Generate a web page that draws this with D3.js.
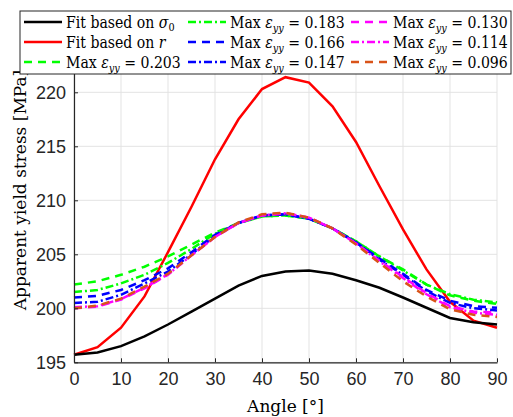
<!DOCTYPE html>
<html><head><meta charset="utf-8">
<script src="https://cdn.jsdelivr.net/npm/d3@7"></script>
<style>body{margin:0;background:#fff}svg{display:block}
.serif{font-family:"DejaVu Serif","Liberation Serif","Noto Serif","Times New Roman",Times,serif}
.sans{font-family:"Liberation Sans",Arial,"DejaVu Sans",sans-serif}
</style>
</head><body>
<svg id="c" width="513" height="417"></svg>
<script>
const angles = [0,5,10,15,20,25,30,35,40,45,50,55,60,65,70,75,80,85,90];
const fitSigma0 = [195.7,195.9,196.5,197.4,198.5,199.7,200.9,202.1,203.0,203.4,203.5,203.2,202.6,201.9,201.0,200.05,199.1,198.7,198.5];
const fitR = [195.7,196.4,198.2,201.1,205.2,209.4,213.8,217.5,220.3,221.4,220.9,218.7,215.4,211.3,207.3,203.6,200.6,198.85,198.2];
const e203 = [202.2,202.5,203.1,203.85,204.8,205.9,207.0,207.9,208.5,208.6,208.3,207.4,206.2,204.8,203.6,202.2,201.2,200.7,200.4];
const e183 = [201.5,201.7,202.3,203.1,204.2,205.5,206.9,207.9,208.5,208.6,208.3,207.4,206.2,204.8,203.5,202.2,201.3,200.8,200.55];
const e166 = [201.0,201.15,201.7,202.6,203.7,205.2,206.8,207.9,208.6,208.7,208.3,207.4,206.1,204.6,203.2,201.7,200.7,200.2,200.05];
const e147 = [200.5,200.6,201.25,202.3,203.4,205.0,206.7,207.9,208.6,208.7,208.3,207.4,206.1,204.5,203.1,201.6,200.5,200.0,199.8];
const e130 = [200.0,200.15,200.8,201.85,203.1,204.9,206.6,207.9,208.6,208.8,208.4,207.4,206.0,204.4,202.9,201.4,200.2,199.7,199.6];
const e114 = [200.1,200.2,200.85,201.9,203.15,204.9,206.6,207.9,208.6,208.8,208.4,207.4,206.0,204.35,202.8,201.3,200.1,199.6,199.4];
const e096 = [200.0,200.25,200.9,202.0,203.2,204.9,206.6,207.95,208.7,208.85,208.4,207.4,205.9,204.2,202.5,201.1,199.9,199.4,199.2];
const xTicks = [0,10,20,30,40,50,60,70,80,90];
const yTicks = [195,200,205,210,215,220];
const strainLabels = ["0.203","0.183","0.166","0.147","0.130","0.114","0.096"];

const series = [
  {name:"sigma", vals:fitSigma0, color:"#000000", dash:null},
  {name:"r", vals:fitR, color:"#FF0000", dash:null},
  {name:strainLabels[0], vals:e203, color:"#00FF00", dash:"8,6"},
  {name:strainLabels[1], vals:e183, color:"#00FF00", dash:"8,3,2,3"},
  {name:strainLabels[2], vals:e166, color:"#0000FF", dash:"8,6"},
  {name:strainLabels[3], vals:e147, color:"#0000FF", dash:"8,3,2,3"},
  {name:strainLabels[4], vals:e130, color:"#FF00FF", dash:"8,6"},
  {name:strainLabels[5], vals:e114, color:"#FF00FF", dash:"8,3,2,3"},
  {name:strainLabels[6], vals:e096, color:"#D95319", dash:"8,6"}
];

const svg = d3.select("#c");
const x = d3.scaleLinear().domain([0,90]).range([74,497]);
const y = d3.scaleLinear().domain([195,225]).range([362.3,38.3]);

const g = svg.append("g");
g.selectAll(".gx").data(xTicks).enter().append("line")
  .attr("x1",d=>x(d)).attr("x2",d=>x(d)).attr("y1",y(195)).attr("y2",y(225))
  .attr("stroke","#e3e3e3").attr("stroke-width",1);
g.selectAll(".gy").data(yTicks).enter().append("line")
  .attr("x1",x(0)).attr("x2",x(90)).attr("y1",d=>y(d)).attr("y2",d=>y(d))
  .attr("stroke","#e3e3e3").attr("stroke-width",1);

const line = d3.line().x((d,i)=>x(angles[i])).y(d=>y(d));
const order = [1,0,2,3,4,5,6,7,8];
order.forEach(k=>{
  const s = series[k];
  svg.append("path").attr("d",line(s.vals)).attr("fill","none")
    .attr("stroke",s.color).attr("stroke-width",2.5)
    .attr("stroke-dasharray",s.dash);
});

const xAxis = d3.axisBottom(x).tickValues(xTicks).tickSizeInner(-4).tickSizeOuter(0).tickPadding(10);
const yAxis = d3.axisLeft(y).tickValues(yTicks).tickSizeInner(-4).tickSizeOuter(0).tickPadding(8);
const ax = svg.append("g").attr("transform",`translate(0,${y(195)})`).call(xAxis);
const ay = svg.append("g").attr("transform",`translate(${x(0)},0)`).call(yAxis);
[ax,ay].forEach(a=>{
  a.attr("font-family",null).attr("font-size",null);
  a.select(".domain").attr("stroke","#262626").attr("stroke-width",1.2);
  a.selectAll(".tick line").attr("stroke","#262626");
  a.selectAll(".tick text").attr("fill","#262626").attr("class","sans").attr("font-size","18px");
});

svg.append("text").attr("class","serif").attr("x",285.5).attr("y",412).attr("text-anchor","middle")
  .attr("font-size","17px").attr("fill","#000")
  .text("Angle [°]");
svg.append("text").attr("class","serif").attr("transform","translate(26,190) rotate(-90)").attr("text-anchor","middle")
  .attr("font-size","17px").attr("fill","#000")
  .text("Apparent yield stress [MPa]");

const lg = svg.append("g");
lg.append("rect").attr("x",20).attr("y",11).attr("width",491).attr("height",63)
  .attr("fill","#fff").attr("stroke","#262626").attr("stroke-width",1);
const colX = [24,188,351];
const rowY = [22,42,62];
series.forEach((s,i)=>{
  const c = Math.floor(i/3), r = i%3;
  const x0 = colX[c], yy = rowY[r];
  lg.append("line").attr("x1",x0).attr("x2",x0+38).attr("y1",yy).attr("y2",yy)
    .attr("stroke",s.color).attr("stroke-width",2.5).attr("stroke-dasharray",s.dash);
  const t = lg.append("text").attr("class","serif")
    .attr("transform",`translate(${x0+42},${yy+5.5}) scale(0.88,1)`)
    .attr("font-size","16px").attr("fill","#000");
  if (i===0){
    t.append("tspan").text("Fit based on ");
    t.append("tspan").attr("font-style","italic").text("σ");
    t.append("tspan").attr("dy",3).attr("font-size","11px").text("0");
  } else if (i===1){
    t.append("tspan").text("Fit based on ");
    t.append("tspan").attr("font-style","italic").text("r");
  } else {
    t.append("tspan").text("Max ");
    t.append("tspan").attr("font-style","italic").text("ε");
    t.append("tspan").attr("dy",4).attr("font-style","italic").attr("font-size","11px").text("yy");
    t.append("tspan").attr("dy",-4).text(" = " + s.name);
  }
});
</script>
</body></html>
